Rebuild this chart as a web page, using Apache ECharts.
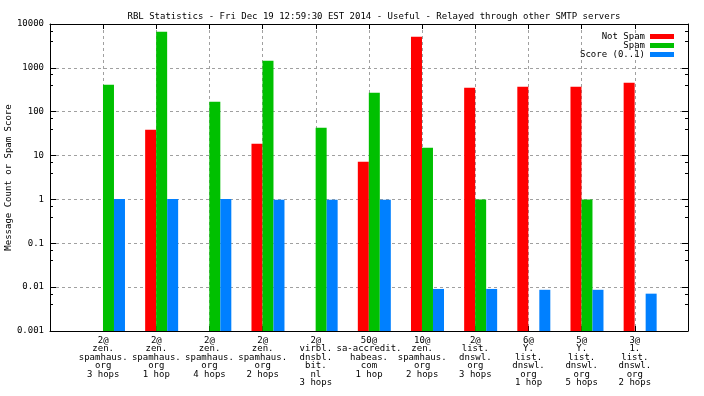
<!DOCTYPE html>
<html>
<head>
<meta charset="utf-8">
<script src="https://cdn.jsdelivr.net/npm/echarts@6/dist/echarts.min.js"></script>
<style>
    html, body { margin: 0; padding: 0; background: #fff; }
    #chart { width: 704px; height: 396px; }
</style>
</head>
<body>
<div id="chart"></div>
<script>
// categories (one per RBL list / hop count)
const categories = [
    '2@\nzen.\nspamhaus.\norg\n3 hops',
    '2@\nzen.\nspamhaus.\norg\n1 hop',
    '2@\nzen.\nspamhaus.\norg\n4 hops',
    '2@\nzen.\nspamhaus.\norg\n2 hops',
    '2@\nvirbl.\ndnsbl.\nbit.\nnl\n3 hops',
    '50@\nsa-accredit.\nhabeas.\ncom\n1 hop',
    '10@\nzen.\nspamhaus.\norg\n2 hops',
    '2@\nlist.\ndnswl.\norg\n3 hops',
    '6@\nY.\nlist.\ndnswl.\norg\n1 hop',
    '5@\nY.\nlist.\ndnswl.\norg\n5 hops',
    '3@\n1.\nlist.\ndnswl.\norg\n2 hops'
];

const notSpam = [null, 39, null, 18.5, null, 7.2, 5100, 350, 370, 370, 455];
const spam = [410, 6700, 168, 1450, 43, 270, 15, 1, null, 1, null];
const score = [1.02, 1.02, 1.02, 0.98, 0.98, 0.98, 0.0091, 0.0091, 0.0087, 0.0087, 0.0071];

const yTicks = ['0.001', '0.01', '0.1', '1', '10', '100', '1000', '10000'];

const FONT = 'DejaVu Sans Mono';
const colors = ['#ff0000', '#00c000', '#0080ff'];

let chart;

function init() {
    chart = echarts.init(document.getElementById('chart'));

    // the bar cluster sits a little to the right of each tick (like gnuplot)
    const toPoints = arr => arr.map((v, i) => [i + 0.1, v]);

    const barSeries = (name, arr, color) => ({
        name: name,
        type: 'bar',
        data: toPoints(arr),
        barWidth: 11,
        barGap: '0%',
        itemStyle: { color: color },
        animation: false
    });

    const frameLine = { show: true, onZero: false, lineStyle: { color: '#000', width: 1 } };

    const options = {
        animation: false,
        title: {
            text: 'RBL Statistics - Fri Dec 19 12:59:30 EST 2014 - Useful - Relayed through other SMTP servers',
            left: 369,
            textAlign: 'center',
            top: 7,
            textStyle: { fontFamily: FONT, fontSize: 9, fontWeight: 'normal', color: '#000' }
        },
        legend: {
            data: ['Not Spam', 'Spam', 'Score (0..1)'],
            orient: 'vertical',
            align: 'right',
            right: 25,
            top: 27,
            itemWidth: 24,
            itemHeight: 5,
            itemGap: 0,
            icon: 'rect',
            textStyle: { fontFamily: FONT, fontSize: 9, color: '#000', lineHeight: 8 }
        },
        grid: { left: 50, right: 16, top: 24, bottom: 65, containLabel: false, outerBoundsMode: 'none' },
        xAxis: [
            {
                type: 'value',
                min: -1,
                max: 11,
                interval: 1,
                axisLine: frameLine,
                axisTick: { show: true, inside: true, length: 5, lineStyle: { color: '#000' } },
                axisLabel: {
                    fontFamily: FONT,
                    fontSize: 9,
                    color: '#000',
                    lineHeight: 8.5,
                    margin: 5,
                    formatter: v => (v >= 0 && v < categories.length) ? categories[v] : ''
                },
                splitLine: { show: true, lineStyle: { color: '#a0a0a0', type: [3, 3] } }
            },
            {
                type: 'value',
                position: 'top',
                min: -1,
                max: 11,
                interval: 1,
                axisLine: frameLine,
                axisTick: { show: true, inside: true, length: 5, lineStyle: { color: '#000' } },
                axisLabel: { show: false },
                splitLine: { show: false }
            }
        ],
        yAxis: [
            {
                type: 'log',
                logBase: 10,
                min: 0.001,
                max: 10000,
                startValue: 0.001,
                name: 'Message Count or Spam Score',
                nameLocation: 'middle',
                nameGap: 37,
                nameMoveOverlap: false,
                nameTextStyle: { fontFamily: FONT, fontSize: 9, color: '#000' },
                axisLine: frameLine,
                axisTick: { show: true, inside: true, length: 6, lineStyle: { color: '#000' } },
                minorTick: { show: true, splitNumber: 3, length: 3, lineStyle: { color: '#000' } },
                axisLabel: {
                    fontFamily: FONT,
                    fontSize: 9,
                    color: '#000',
                    margin: 6,
                    formatter: v => yTicks[Math.round(Math.log10(v)) + 3]
                },
                splitLine: { show: true, lineStyle: { color: '#a0a0a0', type: [3, 3] } }
            },
            {
                type: 'log',
                logBase: 10,
                min: 0.001,
                max: 10000,
                position: 'right',
                axisLine: frameLine,
                axisTick: { show: true, inside: true, length: 6, lineStyle: { color: '#000' } },
                minorTick: { show: true, splitNumber: 3, length: 3, lineStyle: { color: '#000' } },
                axisLabel: { show: false },
                splitLine: { show: false }
            }
        ],
        series: [
            barSeries('Not Spam', notSpam, colors[0]),
            barSeries('Spam', spam, colors[1]),
            barSeries('Score (0..1)', score, colors[2])
        ]
    };

    chart.setOption(options);
}

window.onload = init;
</script>
</body>
</html>
